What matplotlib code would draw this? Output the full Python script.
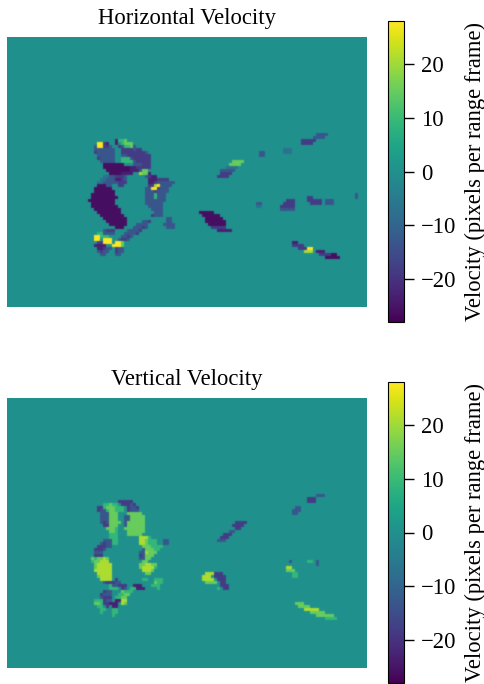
import numpy as np
import matplotlib
matplotlib.use("Agg")
import matplotlib.pyplot as plt

plt.rcParams['font.family'] = ['Liberation Serif', 'DejaVu Serif']
plt.rcParams['mathtext.fontset'] = 'stix'

# velocity field is 90 rows x 120 columns, cells are coded by one letter
codes = {' ': 0, 'p': -26, 'd': -23, 'i': -18, 'b': -13, 't': -7,
         'g': 9, 'l': 15, 'y': 21, 'Y': 28}

# left cluster, first row is 34 and first column is 27
h_left = [
    "         dggl",
    "   YYid  d glll",
    "  bYYiib  ibgglb",
    "  bbbbbbb  iiiibii",
    "  ibbbbbb  iiiiiiiib",
    "   bbbbbb  bbiiiiiiii",
    "   ibbbbb  gggbiiiiii",
    "    bbbbb  ggggbiiiii",
    "     ppppppp   bbbiii",
    "     pppppppppddiiiii",
    "      ppppppppdddbll",
    "       ppppdddd  ylld",
    "     ttbbiiib      bidd",
    "    ttbbbddib       dddiiii",
    "   ttbbbbbiii       ddibbbbbb",
    "   pppbb  ii        iiyYbbbb",
    "  pppppp           bbYYibbb",
    "  ppppppp          bbbibbbb",
    " pppppppp          bbbgbbb",
    " ppppppppp         bbbgbbb",
    "ppppppppp          bbbbbbb",
    " pppppppp          bbbbbb",
    " ppppppppp          bbbbb",
    "  ppppppppp          bbbb",
    "   pppppppp           bbb",
    "    pppppppp         ibbb",
    "     pppppppp             bb",
    "      ppppppp     bbi     bb",
    "       pppppp   bbbb     bbbb",
    "         ppp   bbbib      bbb",
    "     biii    bbbbi",
    "   ggbbbb   bbbbi",
    "  YYggg    bbib",
    "  YY YYY  biib",
    "   iiYYY YYl",
    "  dddd  YYYl",
    "   ddibb ibb",
    "   bibb  ibb",
    "    bb   bb",
]

v_left = [
    "          iiiii",
    "     gglgg iiibi",
    "   iiglllggg ibbi",
    "   ibbgllggg ibbb",
    "    bbblll   lllll",
    "    bbblll  bblllll",
    "    bbblll  bblllll",
    "    bibllll bllllll",
    "     iilll  bllllll",
    "      lllg  lllllll",
    "       llg   llllll",
    "       ggg   lllll",
    "       ggg       yyyg",
    "     bbbgg       yylggg  bb",
    "    bibbgg       yylggg  bb",
    "   iiibb          lllgggg",
    "  iiib            blllgg",
    "  bbb            bbylll",
    "  iii            iblll",
    " lgllyl          bbll",
    " gllyyy           ll",
    "  lyyyyy         llyyll",
    "  lyyyyy         lyyyyg",
    "  yyyyyy          yyyl",
    "   yyyyy           ll",
    "   lyyyy",
    "    yyyy i        gg  ggg",
    "     biiibb           lgg",
    "       gbbiii  ddd   ggg",
    "       ggg ib ggddd    g",
    "     ibb   lggg",
    "    ibbb  ggll",
    "    biii ggll",
    "  gggibb ddyy",
    "  llgiiddd yl",
    "   gg i dd",
    "    gg  gg",
    "    g   gg",
    "        g",
]

# thin tracks on the right: row, first column, last column, code
h_right = [
    (32, 103, 106, 'b'), (33, 102, 105, 'b'), (34, 98, 102, 'i'), (35, 98, 101, 'i'),
    (37, 92, 94, 't'), (38, 92, 94, 't'), (38, 84, 85, 'b'), (39, 84, 85, 'b'),
    (41, 75, 78, 'l'), (42, 74, 77, 'l'), (43, 73, 76, 't'), (44, 71, 75, 'b'),
    (45, 71, 74, 'i'), (46, 70, 73, 'i'), (52, 116, 116, 'b'), (53, 100, 101, 'i'),
    (53, 116, 116, 'b'), (54, 93, 95, 'i'), (54, 100, 104, 'i'), (54, 106, 108, 'b'),
    (55, 83, 84, 'b'), (55, 92, 95, 'i'), (55, 101, 104, 'i'), (55, 106, 108, 'b'),
    (56, 83, 84, 't'), (56, 91, 95, 'i'), (57, 91, 95, 'b'), (58, 64, 68, 'p'),
    (59, 65, 70, 'p'), (60, 66, 71, 'p'), (61, 66, 72, 'p'), (62, 67, 72, 'p'),
    (63, 68, 72, 'i'), (64, 70, 74, 'd'), (68, 95, 96, 'd'), (69, 95, 98, 'i'),
    (70, 97, 99, 'i'), (70, 100, 101, 'Y'), (71, 99, 101, 'y'), (71, 103, 105, 'd'),
    (72, 104, 108, 'i'), (73, 106, 110, 'p'), (72, 108, 109, 'p'),
]

v_right = [
    (32, 103, 105, 'b'), (33, 100, 102, 'i'), (34, 100, 102, 'i'), (36, 96, 97, 'b'),
    (37, 95, 97, 'b'), (38, 95, 96, 'b'), (41, 76, 79, 'i'), (42, 75, 78, 'i'),
    (43, 76, 77, 'i'), (44, 74, 75, 'b'), (45, 72, 74, 'i'), (46, 71, 73, 'i'),
    (47, 70, 72, 'b'), (54, 94, 94, 'b'), (54, 100, 101, 'g'), (54, 103, 103, 'b'),
    (55, 103, 103, 'b'), (56, 93, 94, 'y'), (57, 93, 95, 'l'), (58, 95, 96, 'g'),
    (59, 95, 96, 'g'), (58, 66, 69, 'y'), (58, 69, 71, 'i'), (59, 65, 67, 'y'),
    (59, 69, 72, 'i'), (60, 65, 68, 'y'), (60, 70, 72, 'i'), (61, 66, 69, 'l'),
    (61, 71, 72, 'i'), (62, 71, 73, 'i'), (63, 70, 70, 'g'), (63, 72, 73, 'i'),
    (68, 96, 98, 'l'), (69, 97, 100, 'l'), (70, 99, 103, 'y'), (71, 101, 105, 'l'),
    (72, 103, 108, 'l'), (73, 106, 109, 'g'),
]

cbar_ticks = [-20, -10, 0, 10, 20]
label_text = "Velocity (pixels per range frame)"


def build_field(rows, runs):
    field = np.zeros((90, 120))
    for i, row in enumerate(rows):
        for j, ch in enumerate(row):
            field[34 + i, 27 + j] = codes[ch]
    for r, c0, c1, ch in runs:
        field[r, c0:c1 + 1] = codes[ch]
    # doubling the cells keeps them square, the filter only softens the edges
    return field.repeat(2, axis=0).repeat(2, axis=1)


W, H = 485, 684
fig = plt.figure(figsize=(W / 100, H / 100), dpi=100)

panels = [("Horizontal Velocity", h_left, h_right, 37, 21),
          ("Vertical Velocity", v_left, v_right, 398, 382)]

for title, rows, runs, top, cbar_top in panels:
    ax = fig.add_axes([7 / W, 1 - (top + 270) / H, 360 / W, 270 / H])
    im = ax.imshow(build_field(rows, runs), cmap='viridis', vmin=-28, vmax=28,
                   interpolation='gaussian', aspect='auto')
    ax.axis('off')
    ax.set_title(title, fontsize=16.3, pad=9.5)

    cax = fig.add_axes([388 / W, 1 - (cbar_top + 301) / H, 16 / W, 301 / H])
    cb = fig.colorbar(im, cax=cax)
    cb.set_ticks(cbar_ticks)
    cb.ax.tick_params(labelsize=16.3, length=7, width=1, pad=5)
    cb.set_label(label_text, fontsize=16.3, labelpad=6)

fig.savefig("out.png", dpi=100)
